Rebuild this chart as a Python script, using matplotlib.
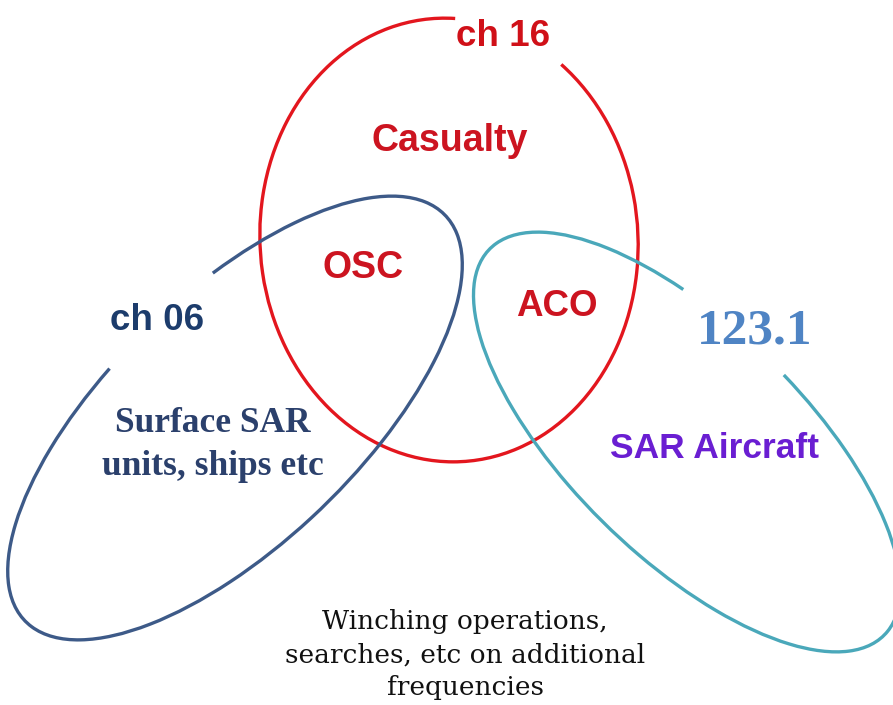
import matplotlib
matplotlib.use("Agg")
import matplotlib.pyplot as plt
from matplotlib.patches import Arc

W, H = 893, 705

# Ellipse sets: name, centre (x, y up), width, height, angle, arc start/end (deg), colour
set_names = ["ch 16", "ch 06", "123.1"]
set_centres = [(449, 465), (235, 287), (687, 263)]
set_widths = [378, 584, 552]
set_heights = [444, 250, 232]
set_angles = [4, 44, -44.3]
set_theta1 = [84.4, 114.5, 135.7]
set_theta2 = [413.4, 414.7, 439.0]
set_colors = ["#e3161e", "#3d5a88", "#4aa8ba"]

# Labels: text, position, colour, font family, size, weight, line spacing
label_texts = ["ch 16", "Casualty", "OSC", "ACO", "ch 06",
               "Surface SAR\nunits, ships etc", "123.1", "SAR Aircraft",
               "Winching operations,\nsearches, etc on additional\nfrequencies"]
label_pos = [(503, 668), (450, 564), (363, 437), (557, 398), (157, 385),
             (213, 260), (755, 373), (715, 257), (465, 50)]
label_colors = ["#d01018", "#cc1420", "#cc1420", "#cc1420", "#1c3c6c",
                "#2b406c", "#4f84c4", "#6a1ed2", "#111111"]
label_fonts = ["Liberation Sans", "Liberation Sans", "Liberation Sans", "Liberation Sans",
               "Liberation Sans", "Liberation Serif", "Liberation Serif",
               "Liberation Sans", "DejaVu Serif"]
label_sizes = [26.5, 27, 27, 26.5, 26.5, 25.5, 37, 25.5, 19]
label_weights = ["bold", "bold", "bold", "bold", "bold", "bold", "bold", "bold", "normal"]
label_spacing = [1, 1, 1, 1, 1, 1.4, 1, 1, 1.4]

fig = plt.figure(figsize=(W / 100, H / 100), dpi=100)
ax = fig.add_axes([0, 0, 1, 1])
ax.set_xlim(0, W)
ax.set_ylim(0, H)
ax.set_aspect("equal")
ax.axis("off")

for c, w, h, a, t1, t2, col in zip(set_centres, set_widths, set_heights, set_angles,
                                   set_theta1, set_theta2, set_colors):
    ax.add_patch(Arc(c, w, h, angle=a, theta1=t1, theta2=t2, color=col, lw=2.4))

for t, p, col, f, s, wt, ls in zip(label_texts, label_pos, label_colors, label_fonts,
                                   label_sizes, label_weights, label_spacing):
    ax.text(p[0], p[1], t, color=col, family=f, fontsize=s, fontweight=wt,
            ha="center", va="center", linespacing=ls)

fig.savefig("out.png", dpi=100, facecolor="white")
